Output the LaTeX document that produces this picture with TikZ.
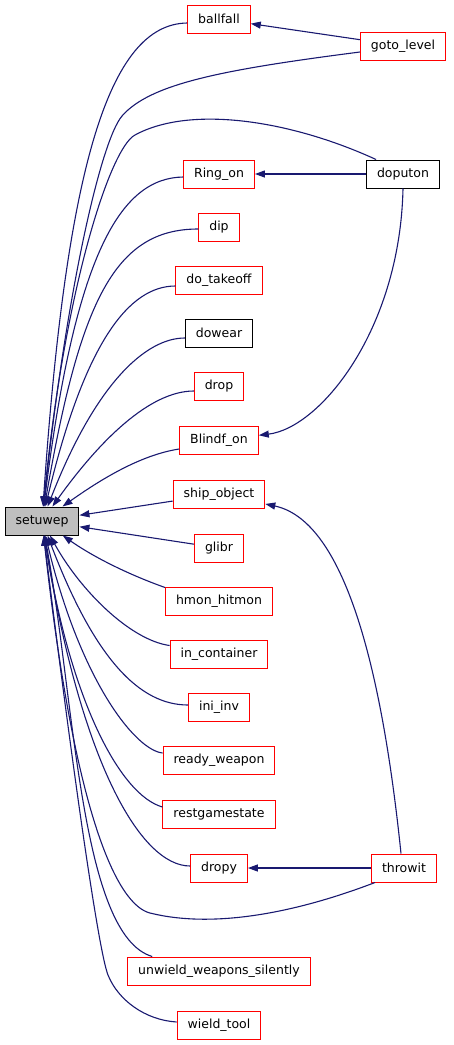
\documentclass[tikz,border=0pt]{standalone}
\usepackage{fontspec}
\setmainfont{DejaVu Sans}
\usetikzlibrary{arrows.meta}
\definecolor{edgeblue}{HTML}{191970}
\definecolor{nodegray}{HTML}{BFBFBF}
\tikzset{
  fn/.style={draw=red, line width=1pt, minimum height=28pt, inner xsep=10.5pt, inner ysep=0pt, font=\fontsize{12.5}{15}\selectfont},
  fnplain/.style={fn, draw=black},
  fncurrent/.style={fn, draw=black, fill=nodegray},
  call/.style={draw=edgeblue, line width=1.1pt, -{Triangle[length=10pt,width=7pt]}}
}
\begin{document}
\begin{tikzpicture}[x=1pt, y=-1pt]
\useasboundingbox (0,0) rectangle (453,1045);

% Function called by everyone
\node[fncurrent] (setuwep) at (42,521) {setuwep};

% Callers in the middle column
\foreach \n/\y/\s/\t in {ballfall/19/fn/ballfall, ringon/174/fn/Ring\_on, dip/227/fn/dip,
    dotakeoff/280/fn/do\_takeoff, dowear/333/fnplain/dowear, drop/386/fn/drop,
    blindfon/440/fn/Blindf\_on, shipobject/494/fn/ship\_object, glibr/548/fn/glibr,
    hmonhitmon/601/fn/hmon\_hitmon, incontainer/654/fn/in\_container, iniinv/707/fn/ini\_inv,
    readyweapon/760/fn/ready\_weapon, restgamestate/814/fn/restgamestate, dropy/868/fn/dropy,
    unwield/971/fn/unwield\_weapons\_silently, wieldtool/1025/fn/wield\_tool} {
    \node[\s] (\n) at (219,\y) {\t};
}

% Callers in the right column
\node[fn] (gotolevel) at (403,46) {goto\_level};
\node[fnplain] (doputon) at (403,174) {doputon};
\node[fn] (throwit) at (404,868) {throwit};

% Calls between callers
\draw[call] (gotolevel) -- (ballfall);
\draw[call] (doputon) -- (ringon);
\draw[call] (throwit) -- (dropy);
\draw[call] (doputon.south) .. controls (400,330) and (320,428) .. (blindfon);
\draw[call] ([xshift=-3pt]throwit.north) .. controls (380,650) and (340,520) .. (shipobject);

% Calls into setuwep from above
\draw[call] ([yshift=-4pt]ballfall.west) .. controls (108,24) and (66,170) .. (setuwep);
\draw[call] ([yshift=-6pt]gotolevel.west) .. controls (220,70) and (150,84) .. (122,116)
    .. controls (100,142) and (65,300) .. (setuwep);
\draw[call] ([xshift=10pt]doputon.north west) .. controls (290,120) and (190,105) .. (135,135)
    .. controls (110,148) and (64,290) .. (setuwep);
\draw[call] ([yshift=-3pt]ringon.west) .. controls (120,178) and (75,255) .. (setuwep);
\draw[call] ([yshift=-2pt]dip.west) .. controls (115,229) and (80,300) .. (setuwep);
\draw[call] ([yshift=-6pt]dotakeoff.west) .. controls (130,286) and (85,340) .. (setuwep);
\draw[call] ([yshift=-5pt]dowear.west) .. controls (145,338) and (95,385) .. (setuwep);
\draw[call] ([yshift=-5pt]drop.west) .. controls (150,391) and (100,440) .. (setuwep);
\draw[call] ([yshift=-9pt]blindfon.west) .. controls (140,455) and (100,480) .. (setuwep);

% Straight calls from the side
\draw[call] (shipobject) -- (setuwep);
\draw[call] (glibr) -- (setuwep);

% Calls into setuwep from below
\draw[call] ([yshift=-1pt]hmonhitmon.north west) .. controls (130,575) and (95,558) .. (setuwep);
\draw[call] ([yshift=-6pt]incontainer.north west) .. controls (130,640) and (80,590) .. (setuwep);
\draw[call] ([yshift=2pt]iniinv.west) .. controls (140,705) and (95,660) .. (setuwep);
\draw[call] ([yshift=7pt]readyweapon.west) .. controls (135,750) and (80,680) .. (setuwep);
\draw[call] ([yshift=7pt]restgamestate.west) .. controls (120,795) and (70,700) .. (setuwep);
\draw[call] ([yshift=2pt]dropy.west) .. controls (140,866) and (80,760) .. (setuwep);
\draw[call] ([xshift=4pt]throwit.south west) .. controls (290,915) and (210,928) .. (150,913)
    .. controls (118,905) and (75,820) .. (setuwep);
\draw[call] ([xshift=25pt]unwield.north west) .. controls (80,935) and (75,700) .. (setuwep);
\draw[call] ([yshift=3pt]wieldtool.west) .. controls (145,1020) and (118,1000) .. (108,975)
    .. controls (98,950) and (70,750) .. (setuwep);

\end{tikzpicture}
\end{document}
